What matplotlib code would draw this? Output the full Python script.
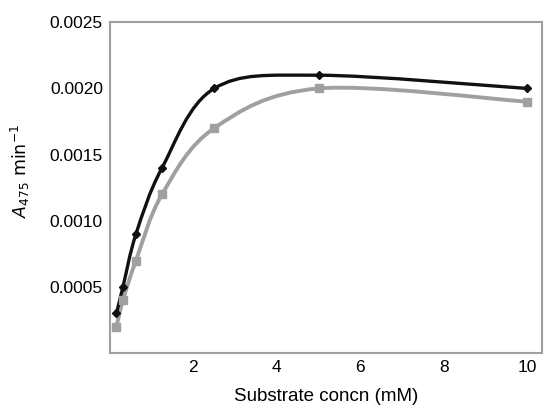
import numpy as np
import matplotlib
matplotlib.use('Agg')
import matplotlib.pyplot as plt
from matplotlib.path import Path
from matplotlib.patches import PathPatch

plt.rcParams['font.family'] = ['Liberation Sans', 'DejaVu Sans']

# --- data ---
conc = [0.156, 0.3125, 0.625, 1.25, 2.5, 5.0, 10.0]
rate_black = [0.0003, 0.0005, 0.0009, 0.0014, 0.0020, 0.0021, 0.0020]
rate_grey = [0.0002, 0.0004, 0.0007, 0.0012, 0.0017, 0.0020, 0.0019]


def smooth_path(xs, ys, tension=1 / 6):
    # Catmull-Rom style bezier through the points (like a spreadsheet "smoothed line")
    pts = np.column_stack([xs, ys])
    verts = [pts[0]]
    codes = [Path.MOVETO]
    n = len(pts)
    for i in range(n - 1):
        p0 = pts[i - 1] if i > 0 else pts[i]
        p1 = pts[i]
        p2 = pts[i + 1]
        p3 = pts[i + 2] if i + 2 < n else pts[i + 1]
        c1 = p1 + (p2 - p0) * tension
        c2 = p2 - (p3 - p1) * tension
        verts += [c1, c2, p2]
        codes += [Path.CURVE4] * 3
    return Path(verts, codes)


fig = plt.figure(figsize=(5.44, 4.05), dpi=100)
ax = fig.add_axes([0.202, 0.128, 0.794, 0.817])

for ys, col, lw, mk, ms in [(rate_grey, '#a0a0a0', 2.8, 's', 5.5),
                            (rate_black, '#111111', 2.4, 'D', 4)]:
    patch = PathPatch(smooth_path(conc, ys), facecolor='none', edgecolor=col,
                      lw=lw, capstyle='round', joinstyle='round')
    ax.add_patch(patch)
    ax.plot(conc, ys, ls='none', marker=mk, ms=ms, color=col)

ax.set_xlim(0, 10.35)
ax.set_ylim(0, 0.0025)
ax.set_xticks([2, 4, 6, 8, 10])
ax.set_yticks([0.0005, 0.0010, 0.0015, 0.0020, 0.0025])
ax.set_yticklabels(['0.0005', '0.0010', '0.0015', '0.0020', '0.0025'])
ax.tick_params(length=0, labelsize=12.5, pad=5)

for s in ax.spines.values():
    s.set_color('#a0a0a0')
    s.set_linewidth(1.5)

ax.set_xlabel('Substrate concn (mM)', fontsize=13.5, labelpad=9)
ax.set_ylabel(r'$\mathit{A}_{475}\ \mathrm{min}^{-1}$', fontsize=12.5)
ax.yaxis.set_label_coords(-0.18, 0.55)

fig.savefig('out.png', dpi=100, facecolor='white')
